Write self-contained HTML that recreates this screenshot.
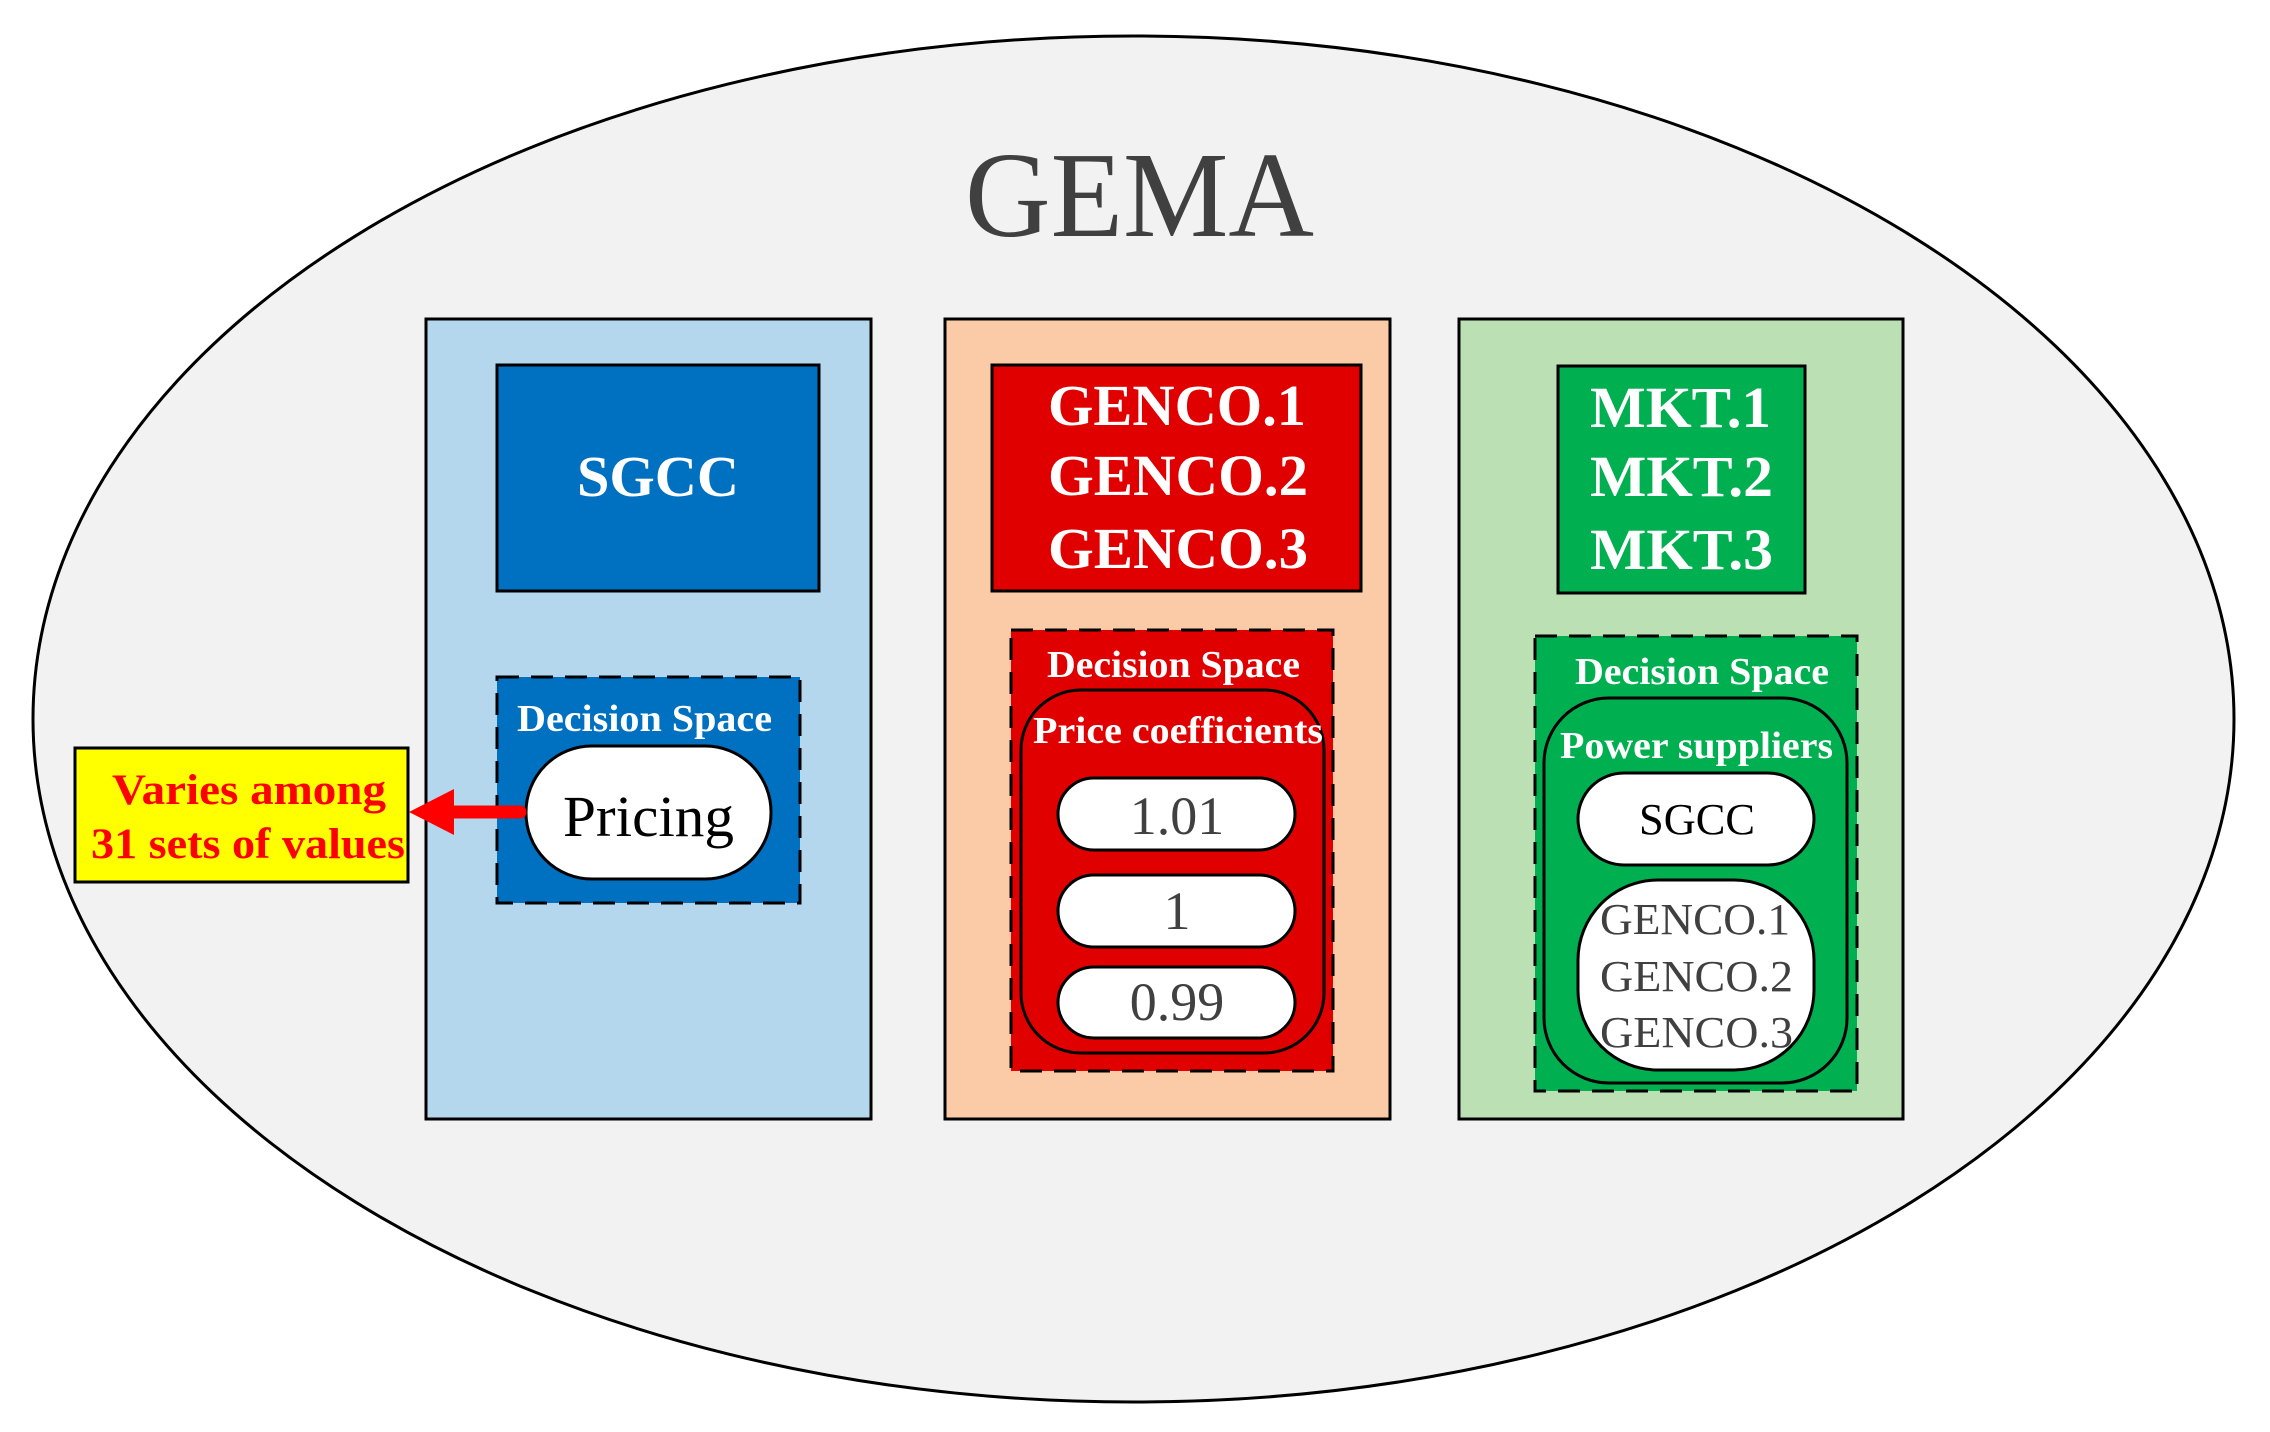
<!DOCTYPE html>
<html><head><meta charset="utf-8"><style>html,body{margin:0;padding:0;background:#fff}svg{display:block}</style></head><body>
<svg width="2270" height="1432" viewBox="0 0 2270 1432" xmlns="http://www.w3.org/2000/svg" font-family="Liberation Serif, serif">
<ellipse cx="1133.5" cy="719" rx="1100.5" ry="683" fill="#f2f2f2" stroke="#000" stroke-width="3"/>
<text x="965" y="236" font-size="122" fill="#404040" textLength="349" lengthAdjust="spacingAndGlyphs">GEMA</text>

<!-- Left panel -->
<rect x="426" y="319" width="445" height="800" fill="#b4d7ee" stroke="#000" stroke-width="3"/>
<rect x="497" y="365" width="322" height="226" fill="#0070c0" stroke="#000" stroke-width="3"/>
<text x="577" y="496" font-size="58" font-weight="bold" fill="#fff" textLength="162" lengthAdjust="spacingAndGlyphs">SGCC</text>
<rect x="497" y="677" width="303" height="226" fill="#0070c0" stroke="#000" stroke-width="3" stroke-dasharray="22,12"/>
<text x="517" y="731" font-size="38" font-weight="bold" fill="#fff" textLength="255" lengthAdjust="spacingAndGlyphs">Decision Space</text>
<rect x="526" y="746" width="245" height="133" rx="66" fill="#fff" stroke="#000" stroke-width="3"/>
<text x="563" y="836" font-size="58" fill="#000" textLength="171" lengthAdjust="spacingAndGlyphs">Pricing</text>
<line x1="520" y1="812" x2="450" y2="812" stroke="#f00" stroke-width="13" stroke-linecap="round"/>
<polygon points="409,812 454,789 454,835" fill="#f00"/>
<rect x="75" y="748" width="333" height="134" fill="#ff0" stroke="#000" stroke-width="3"/>
<text x="112" y="804" font-size="43" font-weight="bold" fill="#f00" textLength="274" lengthAdjust="spacingAndGlyphs">Varies among</text>
<text x="91" y="858" font-size="43" font-weight="bold" fill="#f00" textLength="314" lengthAdjust="spacingAndGlyphs">31 sets of values</text>

<!-- Middle panel -->
<rect x="945" y="319" width="445" height="800" fill="#fbcba8" stroke="#000" stroke-width="3"/>
<rect x="992" y="365" width="369" height="226" fill="#e00000" stroke="#000" stroke-width="3"/>
<g font-size="58" font-weight="bold" fill="#fff">
<text x="1048" y="425" textLength="258" lengthAdjust="spacingAndGlyphs">GENCO.1</text>
<text x="1048" y="495" textLength="260" lengthAdjust="spacingAndGlyphs">GENCO.2</text>
<text x="1048" y="568" textLength="260" lengthAdjust="spacingAndGlyphs">GENCO.3</text></g>
<rect x="1011" y="630" width="322" height="441" fill="#e00000" stroke="#000" stroke-width="3" stroke-dasharray="22,12"/>
<text x="1047" y="677" font-size="38" font-weight="bold" fill="#fff" textLength="253" lengthAdjust="spacingAndGlyphs">Decision Space</text>
<rect x="1021" y="690" width="303" height="363" rx="60" fill="none" stroke="#000" stroke-width="3"/>
<text x="1033" y="743" font-size="38" font-weight="bold" fill="#fff" textLength="290" lengthAdjust="spacingAndGlyphs">Price coefficients</text>
<rect x="1058" y="778" width="237" height="72" rx="36" fill="#fff" stroke="#000" stroke-width="3"/>
<rect x="1058" y="875" width="237" height="72" rx="36" fill="#fff" stroke="#000" stroke-width="3"/>
<rect x="1058" y="967" width="237" height="71" rx="36" fill="#fff" stroke="#000" stroke-width="3"/>
<g font-size="54" fill="#404040" text-anchor="middle">
<text x="1177" y="834">1.01</text><text x="1177" y="929">1</text><text x="1177" y="1020">0.99</text></g>

<!-- Right panel -->
<rect x="1459" y="319" width="444" height="800" fill="#bbe0b3" stroke="#000" stroke-width="3"/>
<rect x="1558" y="366" width="247" height="227" fill="#00b050" stroke="#000" stroke-width="3"/>
<g font-size="58" font-weight="bold" fill="#fff">
<text x="1590" y="427" textLength="181" lengthAdjust="spacingAndGlyphs">MKT.1</text>
<text x="1590" y="496" textLength="183" lengthAdjust="spacingAndGlyphs">MKT.2</text>
<text x="1590" y="569" textLength="183" lengthAdjust="spacingAndGlyphs">MKT.3</text></g>
<rect x="1535" y="636" width="322" height="455" fill="#00b050" stroke="#000" stroke-width="3" stroke-dasharray="22,12"/>
<text x="1575" y="684" font-size="38" font-weight="bold" fill="#fff" textLength="254" lengthAdjust="spacingAndGlyphs">Decision Space</text>
<rect x="1544" y="698" width="303" height="385" rx="65" fill="none" stroke="#000" stroke-width="3"/>
<text x="1560" y="758" font-size="38" font-weight="bold" fill="#fff" textLength="273" lengthAdjust="spacingAndGlyphs">Power suppliers</text>
<rect x="1578" y="773" width="236" height="92" rx="46" fill="#fff" stroke="#000" stroke-width="3"/>
<text x="1639" y="834" font-size="44" fill="#000" textLength="116" lengthAdjust="spacingAndGlyphs">SGCC</text>
<rect x="1578" y="880" width="236" height="190" rx="80" fill="#fff" stroke="#000" stroke-width="3"/>
<g font-size="44" fill="#404040">
<text x="1600" y="934" textLength="190" lengthAdjust="spacingAndGlyphs">GENCO.1</text>
<text x="1600" y="991" textLength="193" lengthAdjust="spacingAndGlyphs">GENCO.2</text>
<text x="1600" y="1047" textLength="193" lengthAdjust="spacingAndGlyphs">GENCO.3</text></g>
</svg>
</body></html>
